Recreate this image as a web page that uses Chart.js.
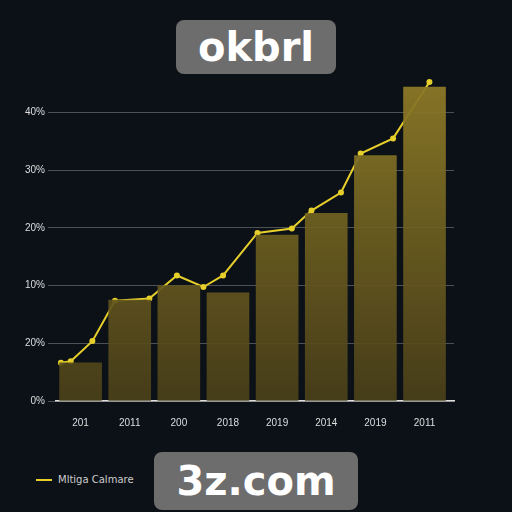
<!DOCTYPE html>
<html>
<head>
<meta charset="UTF-8">
<script src="https://cdn.jsdelivr.net/npm/chart.js"></script>
<style>
  body { margin: 0; background: #0c1118; width: 512px; height: 512px; overflow: hidden; position: relative; font-family: "DejaVu Sans", sans-serif; }
  .title { position: absolute; left: 176px; top: 20px; width: 160px; height: 54px; background: #6d6d6d; border-radius: 8px; color: #fff; font-weight: bold; font-size: 40px; text-align: center; line-height: 54px; }
  .foot { position: absolute; left: 154px; top: 452px; width: 204px; height: 58px; background: #6d6d6d; border-radius: 8px; color: #fff; font-weight: bold; font-size: 40px; text-align: center; line-height: 58px; }
  .legend { position: absolute; left: 36px; top: 474px; color: #ccc; font-size: 10px; }
  .legend span { display: inline-block; width: 16px; height: 2px; background: #e6cf2a; vertical-align: middle; margin-right: 6px; }
  #wrap { position: absolute; left: 0; top: 63px; width: 460px; height: 374px; }
</style>
</head>
<body>
<div id="wrap"><canvas id="c"></canvas></div>
<div class="title">okbrl</div>
<div class="foot">3z.com</div>
<div class="legend"><span></span>Mltiga Calmare</div>
<script>
const categories = ['201', '2011', '200', '2018', '2019', '2014', '2019', '2011'];
const barValues = [5.3, 14, 16, 15, 23, 26, 34, 43.5];
const lineX = [-0.4, -0.2, 0.24, 0.7, 1.4, 1.96, 2.5, 2.9, 3.6, 4.3, 4.7, 5.3, 5.7, 6.36, 7.1];
const lineY = [5.3, 5.5, 8.3, 13.9, 14.2, 17.4, 15.8, 17.4, 23.3, 23.9, 26.4, 28.9, 34.3, 36.4, 44.2];
const yTickLabels = { 0: '0%', 10: '20%', 20: '10%', 30: '20%', 40: '30%', 50: '40%' };

const ctx = document.getElementById('c').getContext('2d');
const grad = ctx.createLinearGradient(0, 0, 0, 340);
grad.addColorStop(0, 'rgba(145,125,40,0.95)');
grad.addColorStop(1, 'rgba(75,65,25,0.9)');

new Chart(ctx, {
  data: {
    datasets: [
      { type: 'bar', data: barValues.map((v, i) => ({ x: i, y: v * 50 / 40 })), backgroundColor: grad, barThickness: 42 },
      { type: 'line', data: lineX.map((x, i) => ({ x: x, y: lineY[i] * 50 / 40 })), borderColor: '#e6cf2a', borderWidth: 2, pointRadius: 2, pointBackgroundColor: '#e6cf2a', tension: 0 }
    ]
  },
  options: {
    responsive: true, maintainAspectRatio: false, animation: false,
    plugins: { legend: { display: false }, tooltip: { enabled: false } },
    layout: { padding: { left: 22, right: 0, top: 0 } },
    scales: {
      x: { type: 'linear', min: -0.5, max: 7.6, offset: false,
        grid: { display: false }, border: { color: '#ddd', width: 1.5 },
        afterBuildTicks: s => { s.ticks = categories.map((c, i) => ({ value: i })); },
        ticks: { color: '#ddd', font: { size: 10 }, padding: 8, callback: v => categories[v] ?? '' } },
      y: { min: 0, max: 57, grid: { color: 'rgba(200,200,200,0.35)' }, border: { display: false },
        afterBuildTicks: s => { s.ticks = [0, 10, 20, 30, 40, 50].map(v => ({ value: v })); },
        ticks: { color: '#ddd', font: { size: 10 }, callback: v => yTickLabels[v] } }
    }
  }
});
</script>
</body>
</html>
